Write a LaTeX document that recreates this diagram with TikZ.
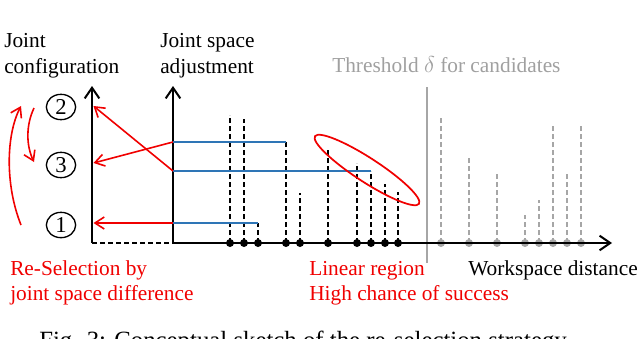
\documentclass[tikz,border=0pt]{standalone}
\usepackage{fontspec}
\setmainfont{Liberation Serif}
\usetikzlibrary{arrows.meta,shapes.geometric}
\definecolor{myred}{RGB}{240,0,0}
\definecolor{myblue}{RGB}{46,117,182}
\definecolor{mygray}{RGB}{166,166,166}
\definecolor{txtgray}{RGB}{160,160,160}
\tikzset{
  axisline/.style={line width=1.5pt, black, -{Straight Barb[length=8pt,width=11pt,line width=1.5pt]}},
  dashseg/.style={line width=1.3pt, black, dash pattern=on 4pt off 2pt},
  blkdash/.style={line width=1.2pt, black, dash pattern=on 4pt off 2pt},
  grydash/.style={line width=1.5pt, mygray, dash pattern=on 4pt off 2pt},
  blueline/.style={line width=1.5pt, myblue},
  redarrow/.style={line width=1.2pt, myred, -{Straight Barb[length=7pt,width=9pt,line width=1.2pt]}},
  numcirc/.style={ellipse, draw, line width=1pt, minimum width=22pt, minimum height=19pt, inner sep=0pt, font=\fontsize{17}{19.5}\selectfont},
  lbl/.style={anchor=base west, inner sep=0pt},
}
\begin{document}
\begin{tikzpicture}[x=0.75pt,y=-0.75pt,font=\fontsize{16}{19.5}\selectfont]
\useasboundingbox (0,0) rectangle (640,339);
\clip (0,0) rectangle (640,339);
% labels
\node[lbl] (jc1) at (4,47) {Joint};
\node[lbl] (jc2) at (4,73) {configuration};
\node[lbl] (js1) at (160,47) {Joint space};
\node[lbl] (js2) at (160,73) {adjustment};
\node[lbl, text=txtgray] (thr) at (332,72) {Threshold $\delta$ for candidates};
\node[lbl, text=myred] (rs1) at (10,275) {Re-Selection by};
\node[lbl, text=myred] (rs2) at (10,300) {joint space difference};
\node[lbl, text=myred] (lr1) at (309,275) {Linear region};
\node[lbl, text=myred] (lr2) at (309,300) {High chance of success};
\node[lbl] (wd) at (468,275) {Workspace distance};
\node[lbl, font=\fontsize{18.6}{22}\selectfont] (cap) at (39,348) {Fig. 3: Conceptual sketch of the re-selection strategy.};
% threshold line
\coordinate (th1) at (427,87);
\coordinate (th2) at (427,263);
\draw[line width=1.2pt, mygray] (th1) -- (th2);
% black candidates
\foreach \px/\py in {230/115,244/119,258/223,286/142,300/193,328/148,357/163,371/171,385/184,398/192}{
  \draw[blkdash] (\px,243) -- (\px,\py);
  \fill[black] (\px,243) circle (3pt);
}
% gray candidates
\foreach \px/\py in {441/116,469/158,497/173,525/215,539/200,553/125,567/173,581/125}{
  \draw[grydash] (\px,243) -- (\px,\py);
  \fill[mygray] (\px,243) circle (3pt);
}
% axes
\coordinate (O1) at (92,243);
\coordinate (T1) at (92,86);
\coordinate (O2) at (173,243);
\coordinate (T2) at (173,86);
\coordinate (XE) at (612,243);
\draw[dashseg] (O1) -- (O2);
\draw[axisline] (O1) -- (T1);
\draw[axisline] (O2) -- (T2);
\draw[axisline] (O2) -- (XE);
% blue lines
\coordinate (b1s) at (173,142); \coordinate (b1e) at (286,142);
\coordinate (b2s) at (173,171); \coordinate (b2e) at (371,171);
\coordinate (b3s) at (173,223); \coordinate (b3e) at (258,223);
\draw[blueline, line width=2.2pt] (b1s) -- (b1e);
\draw[blueline] (b2s) -- (b2e);
\draw[blueline] (b3s) -- (b3e);
% configuration circles
\node[numcirc] (c2) at (61,107) {2};
\node[numcirc] (c3) at (61,165) {3};
\node[numcirc] (c1) at (61,225) {1};
% red arrows to left axis
\coordinate (a2) at (93.5,106);
\coordinate (a3) at (93.5,163);
\coordinate (a1) at (93.5,223);
\draw[redarrow] (b1s) -- (a3);
\draw[redarrow] (b2s) -- (a2);
\draw[redarrow] (b3s) -- (a1);
% curved red arrows
\coordinate (l1) at (21,225);
\coordinate (l2) at (21,106);
\coordinate (s1) at (34,108);
\coordinate (s2) at (34,162);
\draw[redarrow] (l1) .. controls (5,185) and (6,135) .. (l2);
\draw[redarrow] (s1) .. controls (26,125) and (26,145) .. (s2);
% linear region ellipse
\coordinate (ec) at (367,170);
\draw[myred, line width=1.3pt, rotate around={-33:(ec)}] (ec) ellipse (46.5pt and 9pt);
\end{tikzpicture}
\end{document}
